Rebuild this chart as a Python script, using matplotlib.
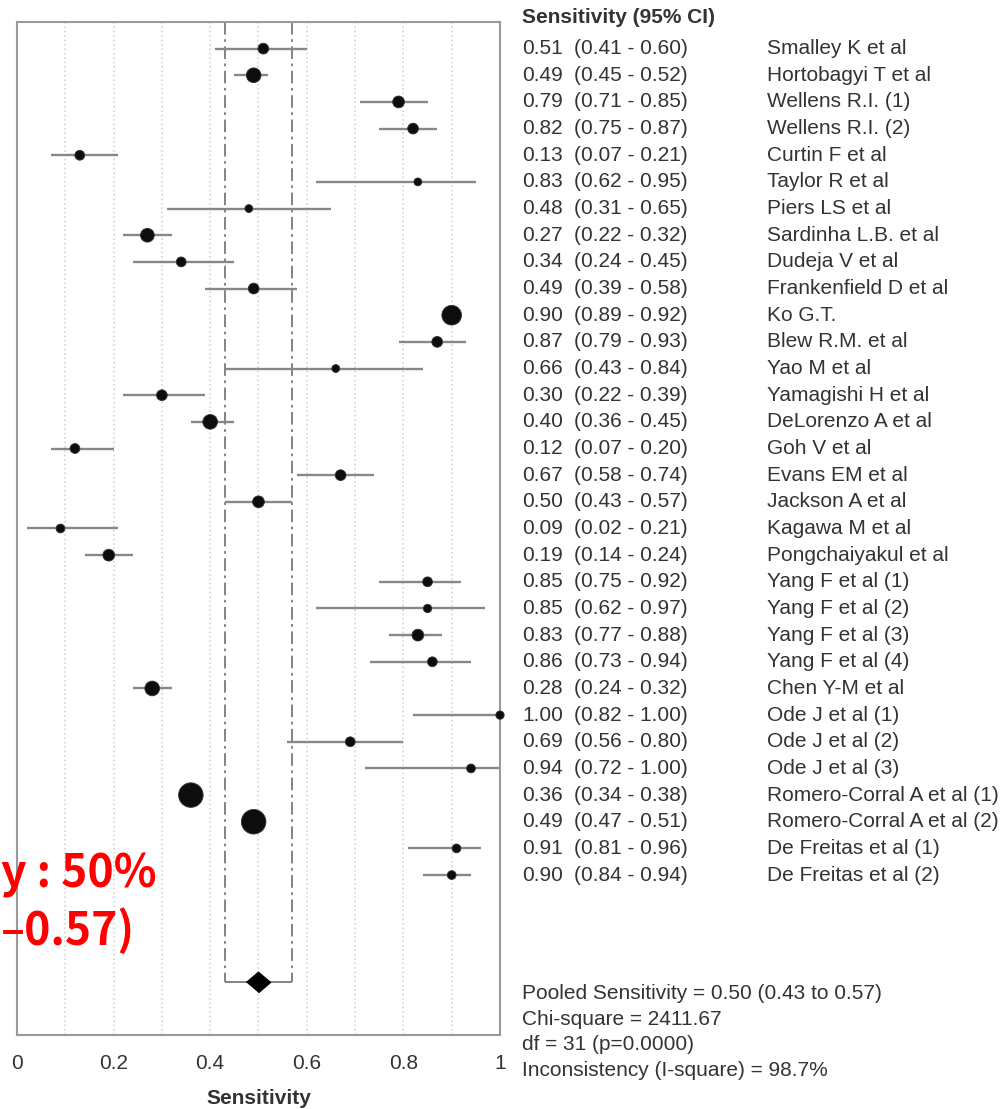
import numpy as np
import matplotlib.pyplot as plt
from matplotlib import transforms

plt.rcParams['font.family'] = ['Liberation Sans', 'DejaVu Sans']

# studies, top to bottom
studies = ['Smalley K et al', 'Hortobagyi T et al', 'Wellens R.I. (1)', 'Wellens R.I. (2)',
           'Curtin F et al', 'Taylor R et al', 'Piers LS et al', 'Sardinha L.B. et al',
           'Dudeja V et al', 'Frankenfield D et al', 'Ko G.T.', 'Blew R.M. et al',
           'Yao M et al', 'Yamagishi H et al', 'DeLorenzo A et al', 'Goh V et al',
           'Evans EM et al', 'Jackson A et al', 'Kagawa M et al', 'Pongchaiyakul et al',
           'Yang F et al (1)', 'Yang F et al (2)', 'Yang F et al (3)', 'Yang F et al (4)',
           'Chen Y-M et al', 'Ode J et al (1)', 'Ode J et al (2)', 'Ode J et al (3)',
           'Romero-Corral A et al (1)', 'Romero-Corral A et al (2)',
           'De Freitas et al (1)', 'De Freitas et al (2)']
sens = [0.51, 0.49, 0.79, 0.82, 0.13, 0.83, 0.48, 0.27, 0.34, 0.49, 0.90, 0.87,
        0.66, 0.30, 0.40, 0.12, 0.67, 0.50, 0.09, 0.19, 0.85, 0.85, 0.83, 0.86,
        0.28, 1.00, 0.69, 0.94, 0.36, 0.49, 0.91, 0.90]
ci_lo = [0.41, 0.45, 0.71, 0.75, 0.07, 0.62, 0.31, 0.22, 0.24, 0.39, 0.89, 0.79,
         0.43, 0.22, 0.36, 0.07, 0.58, 0.43, 0.02, 0.14, 0.75, 0.62, 0.77, 0.73,
         0.24, 0.82, 0.56, 0.72, 0.34, 0.47, 0.81, 0.84]
ci_hi = [0.60, 0.52, 0.85, 0.87, 0.21, 0.95, 0.65, 0.32, 0.45, 0.58, 0.92, 0.93,
         0.84, 0.39, 0.45, 0.20, 0.74, 0.57, 0.21, 0.24, 0.92, 0.97, 0.88, 0.94,
         0.32, 1.00, 0.80, 1.00, 0.38, 0.51, 0.96, 0.94]
# relative study weights (marker area)
weights = [30, 56, 36, 30, 25, 16, 16, 49, 25, 30, 100, 30, 16, 30, 56, 25,
           30, 36, 20, 36, 25, 18, 36, 25, 56, 18, 25, 20, 156, 156, 20, 20]

pooled, pooled_lo, pooled_hi = 0.50, 0.43, 0.57
stats_lines = ['Pooled Sensitivity = 0.50 (0.43 to 0.57)',
               'Chi-square = 2411.67',
               'df = 31 (p=0.0000)',
               'Inconsistency (I-square) = 98.7%']
xticks = [0, 0.2, 0.4, 0.6, 0.8, 1]
xtick_labels = ['0', '0.2', '0.4', '0.6', '0.8', '1']
# visible part of the red call-out in the reference
red_lines = ['y : 50%', '\u20130.57)']

fig = plt.figure(figsize=(10.05, 11.09), dpi=100)
ax = fig.add_axes([0.0169, 0.0667, 0.4806, 0.9135])

n = len(studies)
rows = np.arange(n)
pooled_row = n + 3
ax.set_xlim(0, 1)
ax.set_ylim(n + 5, -1)

# dotted grid every 0.1
for g in np.arange(0.1, 0.95, 0.1):
    ax.axvline(g, color='#d4d4d4', ls=':', lw=1.2, zorder=0)

# pooled CI dashed lines + bracket
ax.vlines([pooled_lo, pooled_hi], -1, pooled_row, color='#7a7a7a', lw=1.3,
          linestyles=[(0, (7, 2.5, 1.5, 2.5))], zorder=1)
ax.hlines(pooled_row, pooled_lo, pooled_hi, color='#7a7a7a', lw=1.3, zorder=1)

ax.hlines(rows, ci_lo, ci_hi, color='#878787', lw=1.7, zorder=2)
ax.scatter(sens, rows, s=np.array(weights) * 2.0, c='#0d0d0d', edgecolors='#333333',
           linewidths=0.6, zorder=3, clip_on=False)

diamond = [(-1, 0), (0, 0.85), (1, 0), (0, -0.85)]
ax.scatter([pooled], [pooled_row], marker=diamond, s=300, c='black', zorder=4)

ax.set_xticks(xticks, xtick_labels)
ax.set_yticks([])
ax.tick_params(axis='x', length=0, pad=14, labelsize=15, labelcolor='#333333')
for sp in ax.spines.values():
    sp.set_color('#9a9a9a')
    sp.set_linewidth(1.5)
ax.set_xlabel('Sensitivity', fontsize=15, fontweight='bold', color='#333333', labelpad=11)

# right-hand columns
tr = transforms.blended_transform_factory(fig.transFigure, ax.transData)
txt = dict(transform=tr, fontsize=15, color='#333333', va='center', clip_on=False)
ax.text(0.5194, -1.15, 'Sensitivity (95% CI)', fontweight='bold', **txt)
for i in range(n):
    ax.text(0.5194, i, f'{sens[i]:.2f}', **txt)
    ax.text(0.5711, i, f'({ci_lo[i]:.2f} - {ci_hi[i]:.2f})', **txt)
    ax.text(0.7632, i, studies[i], **txt)
for k, line in enumerate(stats_lines):
    ax.text(0.5194, 35.45 + k * 0.96, line, **txt)

# red annotation
red = dict(color='red', fontsize=32, fontweight='bold', ha='left', va='baseline',
           family=['Noto Sans CJK KR', 'DejaVu Sans'])
fig.text(0.0005, 1 - 888 / 1109, red_lines[0], **red)
fig.text(0.0005, 1 - 945 / 1109, red_lines[1], **red)

fig.savefig('out.png', dpi=100, facecolor='white')
